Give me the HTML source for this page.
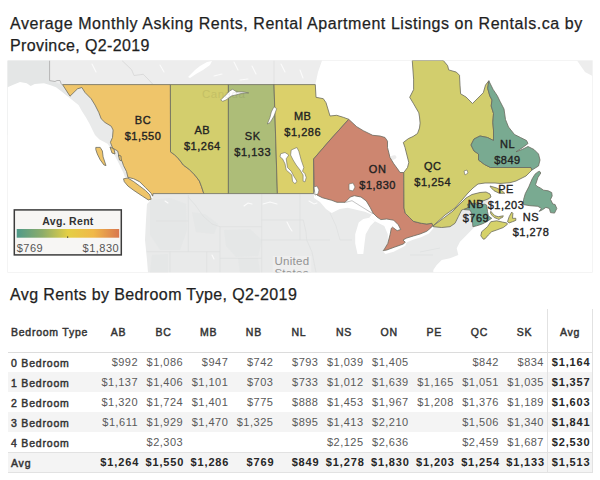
<!DOCTYPE html>
<html><head><meta charset="utf-8"><style>
html,body{margin:0;padding:0;background:#fff;width:600px;height:480px;overflow:hidden;position:relative}
body{font-family:"Liberation Sans",sans-serif}
.t{position:absolute;left:10px;font-size:16px;letter-spacing:0.56px;color:#1f1f1f;white-space:nowrap;line-height:20px;-webkit-text-stroke:0.25px #1f1f1f}
svg{position:absolute;left:0;top:0}
.ml{font-family:"Liberation Sans",sans-serif;font-size:11px;letter-spacing:0.5px;fill:#222;text-anchor:middle;stroke:#222;stroke-width:0.35}
.us{font-family:"Liberation Sans",sans-serif;font-size:11.5px;fill:#939393;letter-spacing:0.3px}
.cn{font-family:"Liberation Sans",sans-serif;font-size:11.5px;fill:#000;opacity:0.07;letter-spacing:0.5px}
.lt{font-family:"Liberation Sans",sans-serif;font-size:10.5px;font-weight:bold;fill:#333;text-anchor:middle;letter-spacing:0.3px}
.lv{font-family:"Liberation Sans",sans-serif;font-size:11px;fill:#555;letter-spacing:0.5px}
.th,.rh,.v,.vb{position:absolute;white-space:nowrap}
.th{font-size:10.5px;font-weight:normal;color:#333;-webkit-text-stroke:0.45px #333;letter-spacing:0.75px;height:20px;line-height:20px}
.rh{font-size:10.5px;font-weight:normal;color:#333;-webkit-text-stroke:0.45px #333;letter-spacing:0.8px}
.v{font-size:11px;color:#5a5a5a;letter-spacing:0.5px}
.vb{font-size:11px;font-weight:bold;color:#262626;letter-spacing:0.85px}
</style></head><body>
<div class="t" style="top:14px">Average Monthly Asking Rents, Rental Apartment Listings on Rentals.ca by</div>
<div class="t" style="top:36px;letter-spacing:0.38px">Province, Q2-2019</div>
<svg width="600" height="480" viewBox="0 0 600 480"><g clip-path="url(#mc)">
<rect x="7.5" y="60.5" width="585.0" height="212.0" fill="#e9eaea" stroke="#e8e8e8" stroke-width="1"/>
<polygon points="7.5,60.5 50,60.5 50,81 61,84.6 70,100 90,135 7.5,135" fill="#e4e6e6"/>
<polygon points="50.0,60.5 322.0,60.5 318.0,72.0 315.6,84.6 62.7,84.6 61.3,84.7 57.3,82.7 54.7,80.7 50.0,80.7" fill="#ededed"/>
<polyline points="49.6,60.5 49.6,80.6 52,81 55,81.5 57,80.5 60,80.5 61.5,84.6" fill="none" stroke="#a8a8a8" stroke-width="0.8"/>
<polygon points="7.5,87.3 13.3,84.7 20.0,82.0 26.7,83.3 30.7,86.0 34.7,84.0 44.0,83.3 50.7,85.3 56.0,87.3 61.3,91.3 67.5,96.2 73.8,101.2 78.5,105.0 82.0,111.2 86.0,117.5 89.5,123.8 93.0,131.0 95.0,135.0 99.5,139.4 107.5,143.8 112.0,150.0 116.2,158.3 120.6,167.0 123.5,172.9 125.0,177.5 134.0,179.0 140.0,182.5 146.0,188.0 152.0,194.0 153.5,196.5 150.0,201.0 147.0,204.0 146.0,220.0 145.0,240.0 147.0,260.0 148.0,272.5 7.5,272.5" fill="#ffffff"/>
<polygon points="322.0,60.5 412.3,60.5 413.6,79.2 413.6,89.6 409.7,97.3 413.6,103.8 416.0,108.0 418.8,112.8 419.5,117.0 420.1,123.1 419.5,128.0 417.5,133.5 413.0,136.5 408.4,138.6 403.3,142.5 405.0,147.5 406.9,155.0 408.8,162.5 407.5,167.5 403.8,172.5 400.0,172.5 397.5,168.8 393.8,163.8 390.0,157.5 387.5,147.5 387.5,141.2 385.0,137.5 380.0,136.2 372.0,135.6 365.0,132.0 356.0,126.0 348.7,119.3 343.3,117.3 336.7,115.3 330.0,116.0 326.0,102.7 323.3,98.7 316.0,97.3 315.3,84.6 318.0,72.0" fill="#ffffff"/>
<polygon points="443.3,60.5 592.5,60.5 592.5,272.5 433.3,272.5 433.3,270.0 436.7,265.0 441.7,260.0 450.0,258.3 458.3,255.0 456.7,248.3 460.0,241.7 466.7,235.0 473.3,228.3 476.7,225.0 480.0,215.0 486.0,204.0 491.0,197.0 500.0,180.0 520.0,165.0 500.0,140.0 488.8,80.8 485.5,85.1 483.3,92.7 477.9,98.1 472.5,103.5 466.0,97.0 460.6,93.8 460.0,85.1 459.5,75.3 456.3,72.1 448.7,69.9 447.6,65.6" fill="#ffffff"/>
<polygon points="577.0,60.5 592.5,60.5 592.5,76.0 585.0,72.0" fill="#ededed"/>
<ellipse cx="393.5" cy="157.5" rx="3" ry="2" fill="#ececec" transform="rotate(-20 393.5 157.5)"/>
<polygon points="188,77 195,70 200,66 207,62 212,61 210,65 203,70 196,74 190,78" fill="#fff"/>
<polygon points="150,200 170,198 186,204 187,230 180,250 160,250 150,235" fill="#e3e6e6" opacity="0.8"/>
<polygon points="192,212 205,214 218,224 214,234 196,232" fill="#e3e6e6" opacity="0.8"/>
<polygon points="224,230 250,229 262,240 258,256 236,257 226,246" fill="#e3e6e6" opacity="0.8"/>
<polygon points="238,258 258,258 260,272.5 240,272.5" fill="#e3e6e6" opacity="0.8"/>
<polygon points="152,255 168,254 168,272.5 150,272.5" fill="#e3e6e6" opacity="0.8"/>
<polyline points="165,201 168,203" fill="none" stroke="#fbfbfb" stroke-width="1.1" stroke-linecap="round"/>
<polyline points="244,206 248,203 252,204" fill="none" stroke="#fbfbfb" stroke-width="1.1" stroke-linecap="round"/>
<polyline points="263,204 270,202 277,204" fill="none" stroke="#fbfbfb" stroke-width="1.1" stroke-linecap="round"/>
<polyline points="287,222 290,228 292,231" fill="none" stroke="#fbfbfb" stroke-width="1.1" stroke-linecap="round"/>
<polyline points="309,201 314,204 317,203" fill="none" stroke="#fbfbfb" stroke-width="1.1" stroke-linecap="round"/>
<polyline points="212,255 214,259" fill="none" stroke="#fbfbfb" stroke-width="1.1" stroke-linecap="round"/>
<polyline points="234,62 238,70" fill="none" stroke="#fbfbfb" stroke-width="1.1" stroke-linecap="round"/>
<polyline points="252,66 256,74" fill="none" stroke="#fbfbfb" stroke-width="1.1" stroke-linecap="round"/>
<polyline points="281,64 285,72" fill="none" stroke="#fbfbfb" stroke-width="1.1" stroke-linecap="round"/>
<polyline points="300,70 303,78" fill="none" stroke="#fbfbfb" stroke-width="1.1" stroke-linecap="round"/>
<polyline points="160,65 164,72" fill="none" stroke="#fbfbfb" stroke-width="1.1" stroke-linecap="round"/>
<polyline points="92,64 96,72" fill="none" stroke="#fbfbfb" stroke-width="1.1" stroke-linecap="round"/>
<polyline points="214,76 222,74" fill="none" stroke="#fbfbfb" stroke-width="1.1" stroke-linecap="round"/>
<polyline points="240,80 248,79" fill="none" stroke="#fbfbfb" stroke-width="1.1" stroke-linecap="round"/>
<polyline points="122,60.5 131.6,69.7 134,75.5 143.2,74.3 148,79 152.6,84" fill="none" stroke="#d2d2d2" stroke-width="0.7"/>
<line x1="274" y1="60.5" x2="274" y2="84" stroke="#dcdcdc" stroke-width="0.7"/>
<polyline points="156,221 188.3,221" fill="none" stroke="#dcdddd" stroke-width="0.6"/>
<polyline points="188.3,195 188.3,251.7" fill="none" stroke="#dcdddd" stroke-width="0.6"/>
<polyline points="146.7,251.7 220,251.7" fill="none" stroke="#dcdddd" stroke-width="0.6"/>
<polyline points="170,251.7 170,272.5" fill="none" stroke="#dcdddd" stroke-width="0.6"/>
<polyline points="206.7,251.7 206.7,272.5" fill="none" stroke="#dcdddd" stroke-width="0.6"/>
<polyline points="188.3,197 196,206 203,216 212,224 220,226.7 220,272.5" fill="none" stroke="#dcdddd" stroke-width="0.6"/>
<polyline points="220,226.7 261.7,226.7" fill="none" stroke="#dcdddd" stroke-width="0.6"/>
<polyline points="261.7,194 261.7,272.5" fill="none" stroke="#dcdddd" stroke-width="0.6"/>
<polyline points="261.7,220 303.3,220" fill="none" stroke="#dcdddd" stroke-width="0.6"/>
<polyline points="220,258.3 261.7,258.3" fill="none" stroke="#dcdddd" stroke-width="0.6"/>
<polyline points="261.7,240 330,240" fill="none" stroke="#dcdddd" stroke-width="0.6"/>
<polyline points="300,194 300,240" fill="none" stroke="#dcdddd" stroke-width="0.6"/>
<polyline points="303.3,220 306,232 306.7,240" fill="none" stroke="#dcdddd" stroke-width="0.6"/>
<polyline points="306.7,240 312,252 316,272.5" fill="none" stroke="#dcdddd" stroke-width="0.6"/>
<polyline points="330,213 336,226 340,240" fill="none" stroke="#dcdddd" stroke-width="0.6"/>
<polyline points="340,240 352,240" fill="none" stroke="#dcdddd" stroke-width="0.6"/>
<polyline points="420,252 440,248" fill="none" stroke="#dcdddd" stroke-width="0.6"/>
<polyline points="410,255 433,255" fill="none" stroke="#dcdddd" stroke-width="0.6"/>
<polygon points="314.3,190.3 317.0,195.0 322.3,197.7 331.7,200.3 337.0,202.3 345.0,202.3 350.3,197.0 354.3,195.7 361.0,197.0 366.3,201.0 370.3,207.7 373.0,213.0 377.0,217.0 374.3,215.7 365.0,211.7 358.3,210.3 347.7,207.7 339.7,209.0 331.7,213.0 326.0,209.0 320.0,202.0 314.0,198.0" fill="#ffffff"/>
<polygon points="358.7,222.5 363.3,219.0 369.2,217.8 375.0,221.3 370.3,226.0 365.7,234.2 364.5,243.5 363.3,254.0 357.5,254.0 355.2,243.5 355.2,234.2" fill="#ffffff"/>
<polygon points="373.0,213.0 395.0,218.0 402.0,230.0 392.0,246.0 383.0,251.0 384.3,249.3 387.8,243.5 387.8,234.2 384.3,226.0 375.0,221.3 369.2,217.8" fill="#ffffff"/>
<polygon points="383.2,251.7 392.5,248.2 403.0,244.7 406.5,242.3 405.3,245.8 393.7,251.7 385.5,254.0" fill="#ffffff"/>
<polygon points="403.0,240.0 413.3,236.0 420.0,234.0 426.7,231.3 432.7,225.3 434.0,227.5 429.0,233.5 421.0,237.2 413.0,239.8 407.0,242.3 404.5,245.0" fill="#ffffff"/>
<polygon points="433.0,226.0 445.0,215.0 455.0,208.0 462.0,200.0 468.0,193.0 473.0,188.0 478.0,184.0 485.0,183.0 495.0,183.0 510.0,183.0 510.0,195.0 491.0,197.0 486.0,192.0 480.0,192.5 472.0,194.5 466.0,198.0 460.0,204.0 453.0,211.0 443.3,218.3" fill="#ffffff"/>
<polygon points="62.5,84.6 170.4,84.6 170.5,151.9 174.6,154.8 179.0,159.2 183.3,165.0 189.2,169.4 195.0,175.2 199.4,181.0 201.6,186.9 203.8,193.6 153.0,193.6 152.7,196.2 151.2,193.3 145.4,187.5 139.6,181.7 133.8,178.8 127.9,177.3 126.5,171.5 123.5,165.6 122.1,161.3 119.2,156.9 117.7,151.0 112.6,148.1 110.4,142.3 112.5,137.5 113.1,130.0 111.2,126.2 105.0,122.5 101.2,118.8 98.8,112.5 95.0,105.0 91.2,98.8 85.0,92.5 81.9,87.5 77.5,88.8 70.0,96.2" fill="#efc56a" stroke="#6b6b60" stroke-width="0.8" stroke-linejoin="round"/>
<polygon points="95.8,147.4 100.2,147.4 102.4,151.0 103.1,156.9 106.0,165.6 103.9,164.9 100.2,159.8 97.3,154.0 95.8,149.6" fill="#efc56a" stroke="#6b6b60" stroke-width="0.8" stroke-linejoin="round"/>
<polygon points="123.5,178.8 127.9,178.0 133.8,181.7 139.6,186.0 145.4,190.4 149.8,194.8 151.2,199.2 148.3,199.9 142.5,196.2 133.8,190.4 127.9,186.0 124.3,181.7" fill="#efc56a" stroke="#6b6b60" stroke-width="0.8" stroke-linejoin="round"/>
<polygon points="118.4,155.0 121.0,156.0 121.4,161.0 119.5,160.0" fill="#efc56a" stroke="#6b6b60" stroke-width="0.8" stroke-linejoin="round"/>
<polygon points="110.0,147.0 114.0,149.0 115.0,154.0 112.0,153.0" fill="#efc56a" stroke="#6b6b60" stroke-width="0.8" stroke-linejoin="round"/>
<polygon points="170.4,84.6 228.4,84.6 228.4,193.6 203.8,193.6 201.6,186.9 199.4,181.0 195.0,175.2 189.2,169.4 183.3,165.0 179.0,159.2 174.6,154.8 170.5,151.9" fill="#d3ce6d" stroke="#6b6b60" stroke-width="0.8" stroke-linejoin="round"/>
<polygon points="228.4,84.6 274.0,84.6 277.4,193.6 228.4,193.6" fill="#adbd78" stroke="#6b6b60" stroke-width="0.8" stroke-linejoin="round"/>
<polygon points="274.0,84.6 315.3,84.6 316.0,97.3 323.3,98.7 326.0,102.7 330.0,116.0 336.7,115.3 343.3,117.3 348.7,119.3 330.0,140.0 313.6,159.0 313.6,193.6 277.4,193.6" fill="#dbd06a" stroke="#6b6b60" stroke-width="0.8" stroke-linejoin="round"/>
<polygon points="348.7,119.3 356.7,126.7 363.3,130.7 372.7,135.3 380.0,136.0 385.0,137.5 387.5,141.2 387.5,147.5 390.0,157.5 393.8,163.8 397.5,168.8 400.0,172.5 403.8,172.5 404.0,208.0 405.3,213.3 409.3,217.3 413.3,221.3 421.3,223.3 426.7,224.0 432.0,223.3 432.7,225.3 430.7,228.0 426.7,231.3 420.0,234.0 413.3,236.0 406.7,238.0 403.0,240.0 405.3,242.3 403.0,244.1 394.8,247.0 386.7,250.0 383.2,250.5 384.3,249.3 387.8,243.5 390.2,234.2 391.3,228.3 392.5,227.2 397.2,230.7 400.7,229.5 398.3,224.8 393.7,220.2 386.7,219.0 380.8,219.6 377.0,217.0 373.0,213.0 370.3,207.7 366.3,201.0 361.0,197.0 354.3,195.7 350.3,197.0 345.0,202.3 337.0,202.3 331.7,200.3 322.3,197.7 317.0,195.0 314.3,190.3 313.6,159.0 330.0,140.0" fill="#cd8670" stroke="#6b6b60" stroke-width="0.8" stroke-linejoin="round"/>
<polygon points="412.3,60.5 443.3,60.5 447.6,65.6 448.7,69.9 456.3,72.1 459.5,75.3 460.0,85.1 460.6,93.8 466.0,97.0 472.5,103.5 477.9,98.1 483.3,92.7 485.5,85.1 488.8,80.8 487.7,88.3 489.8,95.9 492.0,100.0 491.2,106.0 493.5,113.5 492.8,122.5 493.5,130.0 493.5,140.5 487.5,137.5 480.0,136.0 474.0,139.0 471.0,145.0 474.0,151.0 478.5,154.0 478.5,160.0 484.5,164.5 490.5,167.5 531.0,167.5 532.0,170.0 526.0,176.0 516.0,181.0 510.0,182.7 500.0,183.5 495.0,183.0 485.0,183.0 478.0,184.0 473.0,188.0 468.0,193.0 462.0,200.0 455.0,208.0 445.0,215.0 432.7,226.2 432.7,225.3 432.0,223.3 426.7,224.0 421.3,223.3 413.3,221.3 409.3,217.3 405.3,213.3 404.0,208.0 403.8,172.5 407.5,167.5 408.8,162.5 406.9,155.0 405.0,147.5 403.3,142.5 408.4,138.6 413.0,136.5 417.5,133.5 419.5,128.0 420.1,123.1 419.5,117.0 418.8,112.8 416.0,108.0 413.6,103.8 409.7,97.3 413.6,89.6 413.6,79.2 412.3,61.2" fill="#d2ce6d" stroke="#6b6b60" stroke-width="0.8" stroke-linejoin="round"/>
<polygon points="433.0,226.0 443.3,218.3 453.0,211.0 460.0,204.0 466.0,198.0 472.0,194.5 480.0,192.5 486.0,192.0 490.0,194.0 491.0,197.0 488.0,199.0 484.0,200.5 470.0,205.3 466.7,208.3 461.7,210.0 458.3,216.7 455.0,223.3 450.0,226.7 441.7,227.5 433.0,226.7" fill="#d2ce6d" stroke="#6b6b60" stroke-width="0.8" stroke-linejoin="round"/>
<polygon points="490.0,186.0 496.7,188.0 502.0,190.7 504.7,193.3 499.3,193.3 494.0,190.7 490.7,187.3" fill="#d2ce6d" stroke="#6b6b60" stroke-width="0.8" stroke-linejoin="round"/>
<polygon points="488.8,80.8 493.1,89.4 497.4,95.9 500.0,101.3 504.0,109.0 505.5,119.5 508.5,127.0 514.5,134.5 520.5,137.5 526.5,140.5 528.0,143.5 522.0,148.0 516.0,151.8 522.0,149.5 528.0,146.5 534.0,149.5 538.5,154.0 540.0,160.0 538.5,166.0 532.0,170.0 531.0,167.5 490.5,167.5 484.5,164.5 478.5,160.0 478.5,154.0 474.0,151.0 471.0,145.0 474.0,139.0 480.0,136.0 487.5,137.5 493.5,140.5 493.5,130.0 492.8,122.5 493.5,113.5 491.2,106.0 492.0,100.0 489.8,95.9 487.7,88.3" fill="#79aa91" stroke="#6b6b60" stroke-width="0.8" stroke-linejoin="round"/>
<polygon points="539.6,171.3 540.8,173.0 537.9,177.6 535.6,184.5 536.8,186.2 540.2,187.9 543.6,190.2 548.2,190.8 551.7,192.5 552.2,195.9 550.5,199.4 552.8,204.0 555.1,204.5 556.8,208.5 554.5,213.1 550.5,212.6 549.4,208.5 545.9,207.4 542.5,209.7 539.1,211.4 541.4,208.5 537.9,206.3 529.9,205.7 523.0,204.5 523.6,199.4 525.3,193.6 528.8,186.8 532.2,178.8 535.0,174.2 537.9,171.9" fill="#79aa91" stroke="#6b6b60" stroke-width="0.8" stroke-linejoin="round"/>
<polygon points="473.3,203.3 480.0,205.0 484.2,204.2 486.7,205.0 487.5,211.7 488.3,215.8 491.7,218.3 486.7,221.7 481.7,224.2 476.7,225.8 472.9,226.7 472.5,221.7 471.2,216.7 471.7,213.3 470.0,210.0 464.2,209.6 468.3,207.5 467.5,204.2" fill="#72ab94" stroke="#6b6b60" stroke-width="0.8" stroke-linejoin="round"/>
<polygon points="483.3,239.2 480.8,235.8 481.7,231.7 487.5,226.7 490.8,221.7 496.7,220.8 502.5,222.1 506.7,222.9 507.5,224.2 503.3,227.5 496.7,230.0 491.7,231.7 488.3,235.0 485.0,238.8" fill="#d6d26a" stroke="#6b6b60" stroke-width="0.8" stroke-linejoin="round"/>
<polygon points="507.5,221.7 509.2,216.7 511.7,212.1 512.9,213.3 512.5,218.3 515.8,218.3 515.8,220.4 512.5,221.7 509.2,222.9" fill="#d6d26a" stroke="#6b6b60" stroke-width="0.8" stroke-linejoin="round"/>
<polygon points="490.8,211.3 492.5,213.3 495.0,215.8 498.3,216.7 503.3,215.8 502.5,217.5 500.0,218.3 499.2,219.6 497.5,218.8 494.2,217.5 491.7,215.0 490.4,212.9" fill="#d4d06c" stroke="#6b6b60" stroke-width="0.8" stroke-linejoin="round"/>
<polyline points="345,202.5 352,200.7 362,207 373.3,214" fill="none" stroke="#9a9a9a" stroke-width="0.6"/>
<polygon points="291.2,150.0 296.9,147.5 298.8,151.2 301.2,160.0 303.8,167.5 302.5,171.2 305.0,173.8 306.2,177.5 305.0,181.9 303.1,181.2 303.1,175.0 300.0,170.0 296.2,165.0 293.1,160.0 290.6,155.0" fill="#ffffff" stroke="#6b6b60" stroke-width="0.6"/>
<polygon points="280.6,153.8 285.0,152.5 288.8,155.0 286.2,158.8 287.5,167.5 291.2,171.2 293.8,176.2 296.9,181.2 295.0,183.8 292.5,181.2 291.9,175.0 286.2,170.0 285.0,163.8 282.5,158.8 280.0,156.9" fill="#ffffff" stroke="#6b6b60" stroke-width="0.6"/>
<polygon points="220.7,100.0 224.7,96.0 230.0,90.7 232.7,89.3 236.7,92.0 242.0,91.7 248.7,92.9 242.0,93.3 236.7,94.7 231.3,96.0 226.0,100.0 222.7,101.3" fill="#ffffff" stroke="#6b6b60" stroke-width="0.6"/>
<polygon points="274.0,106.7 276.7,108.7 274.0,116.0 270.0,122.7 267.3,124.0 270.0,117.3 271.3,112.0" fill="#ffffff" stroke="#6b6b60" stroke-width="0.6"/>
<polygon points="349.0,184.0 353.0,183.0 355.0,187.0 353.0,191.0 349.0,190.0" fill="#ffffff" stroke="#6b6b60" stroke-width="0.6"/>
<polygon points="464.0,171.0 467.0,170.0 468.0,173.0 465.0,175.0" fill="#ffffff" stroke="#6b6b60" stroke-width="0.6"/>
<polygon points="314.0,187.0 317.0,186.0 319.0,190.0 318.0,194.0 315.0,195.0" fill="#ffffff" stroke="#6b6b60" stroke-width="0.6"/>
<text x="143" y="124" class="ml">BC</text><text x="143" y="139.6" class="ml">$1,550</text>
<text x="202.3" y="134" class="ml">AB</text><text x="202.3" y="149.6" class="ml">$1,264</text>
<text x="252.7" y="139.6" class="ml">SK</text><text x="252.7" y="155.6" class="ml">$1,133</text>
<text x="302.7" y="120.4" class="ml">MB</text><text x="302.7" y="136" class="ml">$1,286</text>
<text x="377.6" y="172.6" class="ml">ON</text><text x="377.6" y="188.6" class="ml">$1,830</text>
<text x="432.7" y="170" class="ml">QC</text><text x="432.7" y="185.6" class="ml">$1,254</text>
<text x="507.5" y="148" class="ml">NL</text><text x="507.5" y="163.6" class="ml">$849</text>
<text x="476" y="208" class="ml">NB</text><text x="476" y="222" class="ml">$769</text>
<text x="506" y="193" class="ml">PE</text><text x="506" y="208.6" class="ml">$1,203</text>
<text x="531" y="220.6" class="ml">NS</text><text x="531" y="236.4" class="ml">$1,278</text>
<rect x="272.8" y="256" width="38.5" height="17" fill="#eeeeee"/>
<text x="274.4" y="265" class="us">United</text><text x="274.4" y="277" class="us">States</text>
<text x="202" y="97.5" class="cn">Canada</text>
<rect x="14.3" y="209.9" width="107" height="45" fill="#f7f6f4" stroke="#3c3c3c" stroke-width="1.5"/>
<defs><linearGradient id="g" x1="0" x2="1" y1="0" y2="0"><stop offset="0" stop-color="#4f9a8a"/><stop offset="0.25" stop-color="#8cac6a"/><stop offset="0.5" stop-color="#e4cf45"/><stop offset="0.75" stop-color="#f0b848"/><stop offset="1" stop-color="#d9774f"/></linearGradient><clipPath id="mc"><rect x="7.5" y="60.5" width="585" height="212"/></clipPath></defs>
<rect x="16.7" y="229" width="102.5" height="8.7" fill="url(#g)"/>
<rect x="67" y="236.5" width="1.2" height="1.2" fill="#333"/>
<text x="68" y="224.5" class="lt">Avg. Rent</text>
<text x="16.7" y="251.6" class="lv">$769</text><text x="119.2" y="251.6" class="lv" text-anchor="end">$1,830</text>
</g></svg>
<div class="t" style="top:285px;letter-spacing:0.38px">Avg Rents by Bedroom Type, Q2-2019</div>
<div style="position:absolute;left:7.5px;top:372px;width:585px;height:20px;background:#f4f4f4"></div>
<div style="position:absolute;left:7.5px;top:412px;width:585px;height:20px;background:#f4f4f4"></div>
<div style="position:absolute;left:7.5px;top:452px;width:585px;height:20.5px;background:#f4f4f4"></div>
<div style="position:absolute;left:7.5px;top:352px;width:585px;height:1px;background:#dcdcdc"></div>
<div style="position:absolute;left:7.5px;top:452px;width:585px;height:1px;background:#e2e2e2"></div>
<div style="position:absolute;left:7.5px;top:472px;width:585px;height:1px;background:#e2e2e2"></div>
<div style="position:absolute;left:547px;top:309px;width:1px;height:164px;background:#e2e2e2"></div>
<div style="position:absolute;left:592px;top:309px;width:1px;height:164px;background:#e2e2e2"></div>
<div class="th" style="left:11px;top:321.5px;width:100px;text-align:left">Bedroom Type</div>
<div class="th" style="left:96.0px;top:321.5px;width:45.1px;text-align:center">AB</div>
<div class="th" style="left:141.1px;top:321.5px;width:45.1px;text-align:center">BC</div>
<div class="th" style="left:186.2px;top:321.5px;width:45.1px;text-align:center">MB</div>
<div class="th" style="left:231.3px;top:321.5px;width:45.1px;text-align:center">NB</div>
<div class="th" style="left:276.4px;top:321.5px;width:45.1px;text-align:center">NL</div>
<div class="th" style="left:321.5px;top:321.5px;width:45.1px;text-align:center">NS</div>
<div class="th" style="left:366.6px;top:321.5px;width:45.1px;text-align:center">ON</div>
<div class="th" style="left:411.7px;top:321.5px;width:45.1px;text-align:center">PE</div>
<div class="th" style="left:456.8px;top:321.5px;width:45.1px;text-align:center">QC</div>
<div class="th" style="left:501.9px;top:321.5px;width:45.1px;text-align:center">SK</div>
<div class="th" style="left:547.5px;top:321.5px;width:45.0px;text-align:center">Avg</div>
<div class="rh" style="left:11px;top:353.5px;height:19.5px;line-height:19.5px">0 Bedroom</div>
<div class="v" style="right:461.9px;top:352.5px;height:19.5px;line-height:19.5px">$992</div>
<div class="v" style="right:416.8px;top:352.5px;height:19.5px;line-height:19.5px">$1,086</div>
<div class="v" style="right:371.7px;top:352.5px;height:19.5px;line-height:19.5px">$947</div>
<div class="v" style="right:326.6px;top:352.5px;height:19.5px;line-height:19.5px">$742</div>
<div class="v" style="right:281.5px;top:352.5px;height:19.5px;line-height:19.5px">$793</div>
<div class="v" style="right:236.4px;top:352.5px;height:19.5px;line-height:19.5px">$1,039</div>
<div class="v" style="right:191.3px;top:352.5px;height:19.5px;line-height:19.5px">$1,405</div>
<div class="v" style="right:101.1px;top:352.5px;height:19.5px;line-height:19.5px">$842</div>
<div class="v" style="right:56.0px;top:352.5px;height:19.5px;line-height:19.5px">$834</div>
<div class="vb" style="right:9.5px;top:352.5px;height:19.5px;line-height:19.5px">$1,164</div>
<div class="rh" style="left:11px;top:373px;height:20px;line-height:20px">1 Bedroom</div>
<div class="v" style="right:461.9px;top:372px;height:20px;line-height:20px">$1,137</div>
<div class="v" style="right:416.8px;top:372px;height:20px;line-height:20px">$1,406</div>
<div class="v" style="right:371.7px;top:372px;height:20px;line-height:20px">$1,101</div>
<div class="v" style="right:326.6px;top:372px;height:20px;line-height:20px">$703</div>
<div class="v" style="right:281.5px;top:372px;height:20px;line-height:20px">$733</div>
<div class="v" style="right:236.4px;top:372px;height:20px;line-height:20px">$1,012</div>
<div class="v" style="right:191.3px;top:372px;height:20px;line-height:20px">$1,639</div>
<div class="v" style="right:146.2px;top:372px;height:20px;line-height:20px">$1,165</div>
<div class="v" style="right:101.1px;top:372px;height:20px;line-height:20px">$1,051</div>
<div class="v" style="right:56.0px;top:372px;height:20px;line-height:20px">$1,035</div>
<div class="vb" style="right:9.5px;top:372px;height:20px;line-height:20px">$1,357</div>
<div class="rh" style="left:11px;top:393px;height:20px;line-height:20px">2 Bedroom</div>
<div class="v" style="right:461.9px;top:392px;height:20px;line-height:20px">$1,320</div>
<div class="v" style="right:416.8px;top:392px;height:20px;line-height:20px">$1,724</div>
<div class="v" style="right:371.7px;top:392px;height:20px;line-height:20px">$1,401</div>
<div class="v" style="right:326.6px;top:392px;height:20px;line-height:20px">$775</div>
<div class="v" style="right:281.5px;top:392px;height:20px;line-height:20px">$888</div>
<div class="v" style="right:236.4px;top:392px;height:20px;line-height:20px">$1,453</div>
<div class="v" style="right:191.3px;top:392px;height:20px;line-height:20px">$1,967</div>
<div class="v" style="right:146.2px;top:392px;height:20px;line-height:20px">$1,208</div>
<div class="v" style="right:101.1px;top:392px;height:20px;line-height:20px">$1,376</div>
<div class="v" style="right:56.0px;top:392px;height:20px;line-height:20px">$1,189</div>
<div class="vb" style="right:9.5px;top:392px;height:20px;line-height:20px">$1,603</div>
<div class="rh" style="left:11px;top:413px;height:20px;line-height:20px">3 Bedroom</div>
<div class="v" style="right:461.9px;top:412px;height:20px;line-height:20px">$1,611</div>
<div class="v" style="right:416.8px;top:412px;height:20px;line-height:20px">$1,929</div>
<div class="v" style="right:371.7px;top:412px;height:20px;line-height:20px">$1,470</div>
<div class="v" style="right:326.6px;top:412px;height:20px;line-height:20px">$1,325</div>
<div class="v" style="right:281.5px;top:412px;height:20px;line-height:20px">$895</div>
<div class="v" style="right:236.4px;top:412px;height:20px;line-height:20px">$1,413</div>
<div class="v" style="right:191.3px;top:412px;height:20px;line-height:20px">$2,210</div>
<div class="v" style="right:101.1px;top:412px;height:20px;line-height:20px">$1,506</div>
<div class="v" style="right:56.0px;top:412px;height:20px;line-height:20px">$1,340</div>
<div class="vb" style="right:9.5px;top:412px;height:20px;line-height:20px">$1,841</div>
<div class="rh" style="left:11px;top:433px;height:20px;line-height:20px">4 Bedroom</div>
<div class="v" style="right:416.8px;top:432px;height:20px;line-height:20px">$2,303</div>
<div class="v" style="right:236.4px;top:432px;height:20px;line-height:20px">$2,125</div>
<div class="v" style="right:191.3px;top:432px;height:20px;line-height:20px">$2,636</div>
<div class="v" style="right:101.1px;top:432px;height:20px;line-height:20px">$2,459</div>
<div class="v" style="right:56.0px;top:432px;height:20px;line-height:20px">$1,687</div>
<div class="vb" style="right:9.5px;top:432px;height:20px;line-height:20px">$2,530</div>
<div class="rh" style="left:11px;top:453px;height:20.5px;line-height:20.5px">Avg</div>
<div class="vb" style="right:460.9px;top:452px;height:20.5px;line-height:20.5px">$1,264</div>
<div class="vb" style="right:415.8px;top:452px;height:20.5px;line-height:20.5px">$1,550</div>
<div class="vb" style="right:370.7px;top:452px;height:20.5px;line-height:20.5px">$1,286</div>
<div class="vb" style="right:325.6px;top:452px;height:20.5px;line-height:20.5px">$769</div>
<div class="vb" style="right:280.5px;top:452px;height:20.5px;line-height:20.5px">$849</div>
<div class="vb" style="right:235.4px;top:452px;height:20.5px;line-height:20.5px">$1,278</div>
<div class="vb" style="right:190.3px;top:452px;height:20.5px;line-height:20.5px">$1,830</div>
<div class="vb" style="right:145.2px;top:452px;height:20.5px;line-height:20.5px">$1,203</div>
<div class="vb" style="right:100.1px;top:452px;height:20.5px;line-height:20.5px">$1,254</div>
<div class="vb" style="right:55.0px;top:452px;height:20.5px;line-height:20.5px">$1,133</div>
<div class="vb" style="right:9.5px;top:452px;height:20.5px;line-height:20.5px">$1,513</div>
</body></html>
